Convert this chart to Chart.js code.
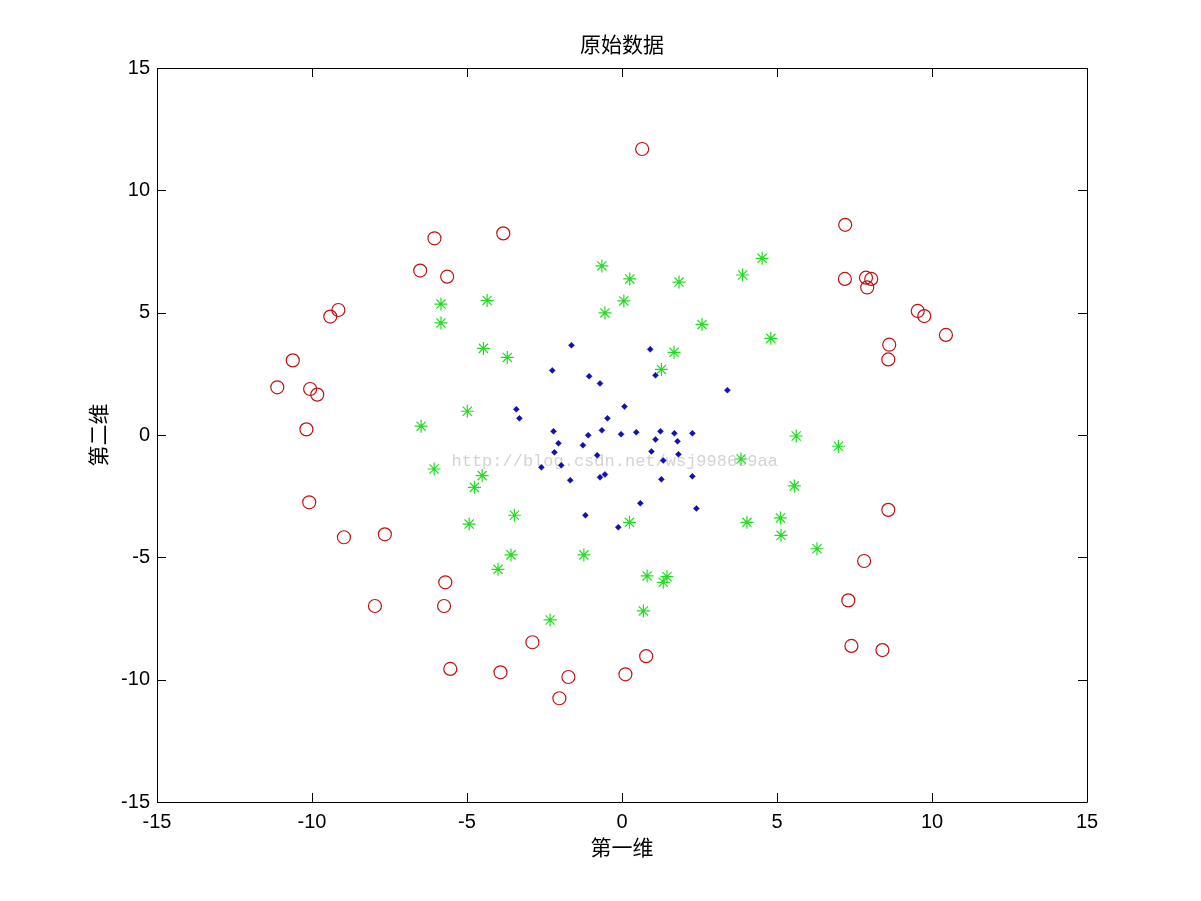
<!DOCTYPE html>
<html>
<head>
<meta charset="utf-8">
<script src="https://cdn.jsdelivr.net/npm/chart.js@4/dist/chart.umd.min.js"></script>
<style>
html,body{margin:0;padding:0;background:#fff;}
#wrap{width:1201px;height:901px;}
canvas{display:block;}
</style>
</head>
<body>
<div id="wrap"><canvas id="c" width="1201" height="901"></canvas></div>
<script>
// ---- data ----
const xTicks = [-15, -10, -5, 0, 5, 10, 15];
const yTicks = [-15, -10, -5, 0, 5, 10, 15];
const titleText = '原始数据';
const xLabel = '第一维';
const yLabel = '第二维';
const watermark = 'http://blog.csdn.net/wsj998689aa';

const redX = [0.65, 7.20, 7.19, 7.87, 8.04, 7.91, 9.54, 9.75, 10.45, 8.62, 8.59, -3.83, -6.05, -6.51, -5.64, -9.15, -9.41, -10.62, -11.12, -10.06, -9.83, -10.18, -10.09, -8.97, -7.65, -5.70, -7.97, -5.74, -2.89, -5.54, -3.92, -1.73, -2.02, 0.11, 0.78, 8.59, 7.81, 7.30, 7.40, 8.40];
const redY = [11.69, 8.59, 6.38, 6.43, 6.38, 6.03, 5.07, 4.86, 4.09, 3.69, 3.09, 8.24, 8.04, 6.72, 6.47, 5.11, 4.84, 3.05, 1.95, 1.88, 1.65, 0.23, -2.75, -4.18, -4.06, -6.02, -6.99, -6.99, -8.47, -9.56, -9.70, -9.89, -10.76, -9.78, -9.04, -3.06, -5.15, -6.76, -8.62, -8.79];

const greenX = [-4.47, -3.70, 1.68, 1.27, -4.99, -6.48, -6.06, -4.51, -4.76, -3.47, -4.93, 0.24, -0.65, 0.25, 1.84, 3.89, 4.52, 0.06, -0.55, 2.58, 4.80, -5.84, -5.84, -4.35, 5.62, 6.98, 3.84, 5.56, 4.03, 5.11, 5.13, 6.29, -3.58, -4.00, -1.23, 0.81, 1.45, 1.33, 0.69, -2.32];
const greenY = [3.54, 3.17, 3.38, 2.68, 0.97, 0.36, -1.39, -1.66, -2.14, -3.28, -3.64, -3.57, 6.91, 6.38, 6.25, 6.54, 7.22, 5.48, 4.99, 4.52, 3.95, 5.35, 4.58, 5.50, -0.04, -0.46, -0.98, -2.08, -3.57, -3.39, -4.10, -4.65, -4.90, -5.49, -4.90, -5.76, -5.79, -6.02, -7.19, -7.56];

const blueX = [-1.63, 0.91, -2.25, -1.06, -0.71, 1.08, 3.40, 0.08, -3.41, -3.31, -0.47, -2.21, -0.65, -1.09, -0.03, 0.46, 1.24, 1.69, 2.27, 1.08, 1.79, -2.05, -1.26, -2.18, 0.95, 1.82, -0.80, -2.60, -1.96, 1.33, -0.71, -0.55, -1.67, 1.27, 2.27, 0.59, 2.40, -1.18, -0.12];
const blueY = [3.67, 3.50, 2.64, 2.40, 2.11, 2.44, 1.83, 1.16, 1.05, 0.68, 0.68, 0.15, 0.19, -0.01, 0.03, 0.11, 0.15, 0.07, 0.07, -0.18, -0.26, -0.34, -0.42, -0.71, -0.67, -0.79, -0.83, -1.32, -1.24, -1.04, -1.73, -1.61, -1.85, -1.81, -1.69, -2.79, -3.00, -3.28, -3.77];

function pts(xs, ys) { return xs.map((x, i) => ({x: x, y: ys[i]})); }

const LATIN = '"Liberation Sans", Arial, sans-serif';
const CJK = '"Noto Sans CJK SC", "Liberation Sans", sans-serif';

const boxTicks = {
  id: 'boxTicks',
  afterDraw(chart) {
    const {ctx, chartArea: a, scales: {x, y}} = chart;
    const L = 9;
    ctx.save();
    ctx.strokeStyle = '#000';
    ctx.lineWidth = 1;
    ctx.beginPath();
    ctx.rect(Math.round(a.left) + 0.5, Math.round(a.top) + 0.5, Math.round(a.right - a.left), Math.round(a.bottom - a.top));
    xTicks.forEach(v => {
      const px = Math.round(x.getPixelForValue(v)) + 0.5;
      ctx.moveTo(px, a.bottom); ctx.lineTo(px, a.bottom - L);
      ctx.moveTo(px, a.top); ctx.lineTo(px, a.top + L);
    });
    yTicks.forEach(v => {
      const py = Math.round(y.getPixelForValue(v)) + 0.5;
      ctx.moveTo(a.left, py); ctx.lineTo(a.left + L, py);
      ctx.moveTo(a.right, py); ctx.lineTo(a.right - L, py);
    });
    ctx.stroke();
    // title centred over the plot area
    ctx.fillStyle = '#000';
    ctx.font = '21px ' + CJK;
    ctx.textAlign = 'center';
    ctx.textBaseline = 'middle';
    ctx.fillText(titleText, (a.left + a.right) / 2, 44);
    ctx.restore();
  },
  beforeDatasetsDraw(chart) {
    const {ctx, scales: {x, y}} = chart;
    ctx.save();
    ctx.font = '17px "Liberation Mono", "DejaVu Sans Mono", monospace';
    ctx.fillStyle = 'rgba(200,200,200,0.8)';
    ctx.textBaseline = 'middle';
    ctx.textAlign = 'left';
    ctx.fillText(watermark, x.getPixelForValue(-5.5), y.getPixelForValue(-1.07));
    ctx.restore();
  }
};

new Chart(document.getElementById('c'), {
  type: 'scatter',
  data: {
    datasets: [
      {
        label: 'outer',
        data: pts(redX, redY),
        pointStyle: 'circle',
        pointRadius: 6.5,
        pointHoverRadius: 6.5,
        borderColor: '#c41010',
        backgroundColor: 'rgba(0,0,0,0)',
        borderWidth: 1.2
      },
      {
        label: 'middle',
        data: pts(greenX, greenY),
        pointStyle: 'star',
        pointRadius: 6.5,
        pointHoverRadius: 6.5,
        borderColor: '#22dd22',
        backgroundColor: '#22dd22',
        borderWidth: 1.2
      },
      {
        label: 'inner',
        data: pts(blueX, blueY),
        pointStyle: 'rectRot',
        pointRadius: 3,
        pointHoverRadius: 3,
        borderColor: '#1010b0',
        backgroundColor: '#1010b0',
        borderWidth: 0.5
      }
    ]
  },
  options: {
    responsive: false,
    animation: false,
    events: [],
    layout: {padding: {left: 0, right: 114, top: 68, bottom: 0}},
    plugins: {
      legend: {display: false},
      tooltip: {enabled: false},
      title: {display: false}
    },
    scales: {
      x: {
        type: 'linear',
        min: -15, max: 15,
        afterBuildTicks: s => { s.ticks = xTicks.map(v => ({value: v})); },
        afterFit: s => { s.height = 99; },
        grid: {display: false, drawTicks: false},
        border: {display: false},
        ticks: {color: '#000', padding: 8, font: {family: LATIN, size: 20}, maxRotation: 0},
        title: {display: true, text: xLabel, color: '#000', font: {family: CJK, size: 21, lineHeight: 1.2}, padding: {top: 0, bottom: 41}}
      },
      y: {
        type: 'linear',
        min: -15, max: 15,
        afterBuildTicks: s => { s.ticks = yTicks.map(v => ({value: v})); },
        afterFit: s => { s.width = 157; },
        grid: {display: false, drawTicks: false},
        border: {display: false},
        ticks: {color: '#000', padding: 7, font: {family: LATIN, size: 20}},
        title: {display: true, text: yLabel, color: '#000', font: {family: CJK, size: 21, lineHeight: 1.2}, padding: {top: 85, bottom: 0}}
      }
    }
  },
  plugins: [boxTicks]
});
</script>
</body>
</html>
